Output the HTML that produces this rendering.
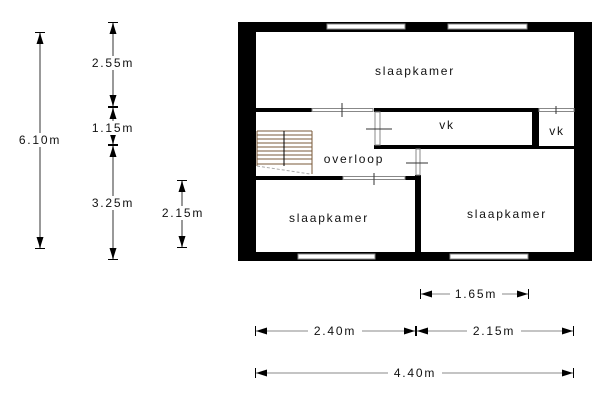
<!DOCTYPE html>
<html><head><meta charset="utf-8"><style>
html,body{margin:0;padding:0;background:#fff;width:600px;height:400px;overflow:hidden}
svg text{font-family:"Liberation Sans",sans-serif;font-size:12px;fill:#111;letter-spacing:1.8px}
</style></head><body>
<svg width="600" height="400" viewBox="0 0 600 400" xmlns="http://www.w3.org/2000/svg">
<defs>
<marker id="a" viewBox="0 0 12 10" refX="12" refY="5" markerWidth="12" markerHeight="10" markerUnits="userSpaceOnUse" orient="auto-start-reverse">
<path d="M0,1.5 L11,5 L0,8.5 Z" fill="#000"/><rect x="11" y="0" width="1.2" height="10" fill="#000"/>
</marker>
</defs>
<g stroke="#999" stroke-width="2" fill="none">
<line x1="40" y1="32" x2="40" y2="249" marker-start="url(#a)" marker-end="url(#a)"/>
<line x1="113" y1="22" x2="113" y2="107" marker-start="url(#a)" marker-end="url(#a)"/>
<line x1="113" y1="107" x2="113" y2="145" marker-start="url(#a)" marker-end="url(#a)"/>
<line x1="113" y1="145" x2="113" y2="260" marker-start="url(#a)" marker-end="url(#a)"/>
<line x1="182" y1="180" x2="182" y2="248" marker-start="url(#a)" marker-end="url(#a)"/>
</g>
<g stroke="#888" stroke-width="1" fill="none">
<line x1="420" y1="294" x2="529" y2="294" marker-start="url(#a)" marker-end="url(#a)"/>
<line x1="255" y1="331" x2="416" y2="331" marker-start="url(#a)" marker-end="url(#a)"/>
<line x1="416" y1="331" x2="574" y2="331" marker-start="url(#a)" marker-end="url(#a)"/>
<line x1="255" y1="373" x2="574" y2="373" marker-start="url(#a)" marker-end="url(#a)"/>
</g>
<g>
<rect x="14" y="133" width="52" height="14" fill="#fff"/><text x="40" y="144" text-anchor="middle">6.10m</text>
<rect x="86" y="56" width="54" height="14" fill="#fff"/><text x="113" y="67" text-anchor="middle">2.55m</text>
<rect x="86" y="121" width="54" height="14" fill="#fff"/><text x="113" y="132" text-anchor="middle">1.15m</text>
<rect x="86" y="196" width="54" height="14" fill="#fff"/><text x="113" y="207" text-anchor="middle">3.25m</text>
<rect x="156" y="206" width="54" height="14" fill="#fff"/><text x="183" y="217" text-anchor="middle">2.15m</text>
<rect x="450" y="287" width="52" height="14" fill="#fff"/><text x="476" y="298" text-anchor="middle">1.65m</text>
<rect x="308" y="324" width="54" height="14" fill="#fff"/><text x="335" y="335" text-anchor="middle">2.40m</text>
<rect x="467" y="324" width="54" height="14" fill="#fff"/><text x="494" y="335" text-anchor="middle">2.15m</text>
<rect x="388" y="366" width="54" height="14" fill="#fff"/><text x="415" y="377" text-anchor="middle">4.40m</text>
</g>
<g fill="#000">
<rect x="238" y="22" width="354" height="10"/>
<rect x="238" y="252" width="354" height="9"/>
<rect x="238" y="22" width="18" height="239"/>
<rect x="574" y="22" width="18" height="239"/>
</g>
<g fill="#fff" stroke="#888" stroke-width="1">
<rect x="327" y="24" width="78" height="5"/><rect x="448" y="24" width="79" height="5"/>
<rect x="298" y="254" width="77" height="5"/><rect x="450" y="254" width="78" height="5"/>
</g>
<g fill="#000">
<rect x="256" y="108" width="56" height="4"/>
<rect x="374" y="108" width="165" height="4"/>
<rect x="381" y="145" width="158" height="4"/>
<rect x="532" y="108" width="7" height="41"/>
<rect x="539" y="146" width="35" height="3"/>
<rect x="374" y="145" width="7" height="4"/>
<rect x="415" y="175" width="6" height="77"/>
<rect x="256" y="176" width="87" height="4"/>
<rect x="405" y="176" width="16" height="4"/>
</g>
<g fill="#fff" stroke="#888" stroke-width="1">
<rect x="312" y="108.5" width="61" height="3"/>
<rect x="539" y="108.5" width="35" height="3"/>
<rect x="375" y="112" width="5" height="33"/>
<rect x="416" y="149" width="4" height="26"/>
<rect x="343" y="176.5" width="62" height="3"/>
</g>
<g stroke="#333" stroke-width="1">
<line x1="342" y1="103" x2="342" y2="117"/>
<line x1="366" y1="129" x2="392" y2="129"/>
<line x1="406" y1="163" x2="428" y2="163"/>
<line x1="374" y1="173" x2="374" y2="185"/>
<line x1="556" y1="106" x2="556" y2="114"/>
</g>
<g stroke="#7a5a3a" stroke-width="1">
<line x1="312" y1="131" x2="312" y2="174"/>
<line x1="257" y1="131" x2="312" y2="131"/>
<line x1="257" y1="135" x2="312" y2="135"/>
<line x1="257" y1="139" x2="312" y2="139"/>
<line x1="257" y1="143" x2="312" y2="143"/>
<line x1="257" y1="147" x2="312" y2="147"/>
<line x1="257" y1="151" x2="312" y2="151"/>
<line x1="257" y1="155" x2="312" y2="155"/>
<line x1="257" y1="159" x2="312" y2="159"/>
<line x1="257" y1="164" x2="312" y2="164"/>
<line x1="257" y1="131" x2="257" y2="166"/>
</g>
<line x1="284" y1="131" x2="284" y2="166" stroke="#000" stroke-width="1"/>
<line x1="257" y1="166" x2="310" y2="174" stroke="#aaa" stroke-width="1" stroke-dasharray="3,2"/>
<text x="415" y="75" text-anchor="middle">slaapkamer</text>
<text x="447" y="129" text-anchor="middle">vk</text>
<text x="557" y="135" text-anchor="middle">vk</text>
<text x="354" y="163" text-anchor="middle">overloop</text>
<text x="329" y="222" text-anchor="middle">slaapkamer</text>
<text x="507" y="218" text-anchor="middle">slaapkamer</text>
</svg>
</body></html>
